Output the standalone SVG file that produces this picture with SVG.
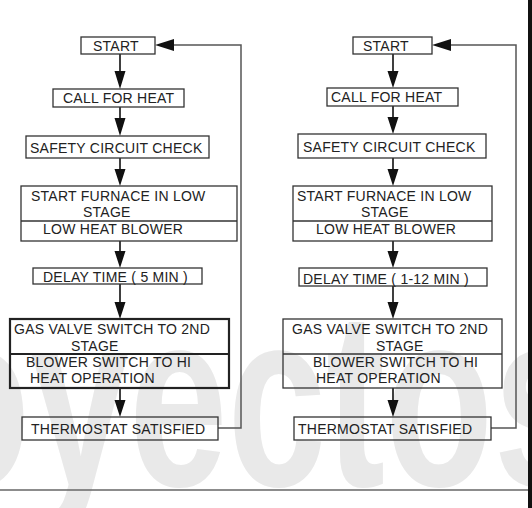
<svg xmlns="http://www.w3.org/2000/svg" width="532" height="508" viewBox="0 0 532 508">
<style>
.box{fill:none;stroke:#333;stroke-width:1.3}
.thick{fill:none;stroke:#222;stroke-width:2.2}
.t{font-family:"Liberation Sans",Arial,sans-serif;font-size:14px;letter-spacing:0.25px;fill:#222}
.ln{stroke:#111;stroke-width:1.6;fill:none}
.fb{stroke:#555;stroke-width:1.5;fill:none}
.wm{font-family:"Liberation Sans",Arial,sans-serif;font-weight:bold;font-size:250px;fill:#e9e9e9}
</style>
<rect width="532" height="508" fill="#fff"/>
<text class="wm" x="-78" y="486" textLength="670" lengthAdjust="spacingAndGlyphs">oyectos</text>
<line x1="0" y1="490" x2="528" y2="490" stroke="#666" stroke-width="1.5"/>
<rect x="528" y="0" width="4" height="508" fill="#111"/>

<g id="connectors">
<path class="ln" d="M120 54V72 M120 107V119 M120 158V170 M120 241V252 M120 284V302 M120 388V400"/>
<path fill="#111" d="M114.5 71L125.5 71L120 89Z M114.5 118L125.5 118L120 136Z M114.5 169L125.5 169L120 186Z M114.5 251L125.5 251L120 268Z M114.5 302L125.5 302L120 319Z M114.5 400L125.5 400L120 417Z"/>
<path class="fb" d="M218 428H241V45H172"/>
<path fill="#111" d="M155 45L174 39L174 51Z"/>
<path class="ln" d="M393 54V72 M393 106V117 M393 158V170 M393 241V252 M393 286V302 M393 388V400" stroke-width="2"/>
<path fill="#111" d="M387.5 71L398.5 71L393 88Z M387.5 117L398.5 117L393 134Z M387.5 169L398.5 169L393 186Z M387.5 251L398.5 251L393 268Z M387.5 302L398.5 302L393 319Z M387.5 400L398.5 400L393 417Z"/>
<path class="fb" d="M491 428H516V45H449"/>
<path fill="#111" d="M432 45L451 39L451 51Z"/>
</g>

<g id="l-start"><rect class="box" x="81" y="37" width="74" height="17"/><text class="t" x="93" y="51">START</text></g>
<g id="l-call"><rect class="box" x="53" y="89" width="131" height="18"/><text class="t" x="63" y="103">CALL FOR HEAT</text></g>
<g id="l-safety"><rect class="box" x="26" y="136" width="183" height="22"/><text class="t" x="30" y="153">SAFETY CIRCUIT CHECK</text></g>
<g id="l-furnace"><rect class="box" x="21" y="186" width="216" height="55"/><line class="box" x1="21" y1="221" x2="237" y2="221"/>
<text class="t" x="31" y="201">START FURNACE IN LOW</text><text class="t" x="83" y="217">STAGE</text><text class="t" x="43" y="234">LOW HEAT BLOWER</text></g>
<g id="l-delay"><rect class="box" x="33" y="268" width="169" height="16"/><text class="t" x="43" y="282">DELAY TIME ( 5 MIN )</text></g>
<g id="l-gas"><rect class="thick" x="10" y="319" width="219" height="69"/><line class="thick" x1="10" y1="354" x2="229" y2="354"/>
<text class="t" x="14" y="334">GAS VALVE SWITCH TO 2ND</text><text class="t" x="71" y="351">STAGE</text><text class="t" x="26" y="367">BLOWER SWITCH TO HI</text><text class="t" x="30" y="383">HEAT OPERATION</text></g>
<g id="l-thermo"><rect class="box" x="22" y="417" width="196" height="23"/><text class="t" x="31" y="434">THERMOSTAT SATISFIED</text></g>

<g id="r-start"><rect class="box" x="353" y="37" width="79" height="17"/><text class="t" x="363" y="51">START</text></g>
<g id="r-call"><rect class="box" x="327" y="88" width="131" height="18"/><text class="t" x="331" y="102">CALL FOR HEAT</text></g>
<g id="r-safety"><rect class="box" x="298" y="134" width="188" height="24"/><text class="t" x="303" y="152">SAFETY CIRCUIT CHECK</text></g>
<g id="r-furnace"><rect class="box" x="293" y="186" width="199" height="55"/><line class="box" x1="293" y1="221" x2="492" y2="221"/>
<text class="t" x="297" y="201">START FURNACE IN LOW</text><text class="t" x="361" y="217">STAGE</text><text class="t" x="316" y="234">LOW HEAT BLOWER</text></g>
<g id="r-delay"><rect class="box" x="299" y="268" width="188" height="18"/><text class="t" x="303" y="284">DELAY TIME ( 1-12 MIN )</text></g>
<g id="r-gas"><rect class="box" x="283" y="319" width="219" height="69"/><line class="box" x1="283" y1="354" x2="502" y2="354"/>
<text class="t" x="292" y="334">GAS VALVE SWITCH TO 2ND</text><text class="t" x="376" y="351">STAGE</text><text class="t" x="313" y="367">BLOWER SWITCH TO HI</text><text class="t" x="316" y="383">HEAT OPERATION</text></g>
<g id="r-thermo"><rect class="box" x="294" y="417" width="197" height="23"/><text class="t" x="298" y="434">THERMOSTAT SATISFIED</text></g>
</svg>
